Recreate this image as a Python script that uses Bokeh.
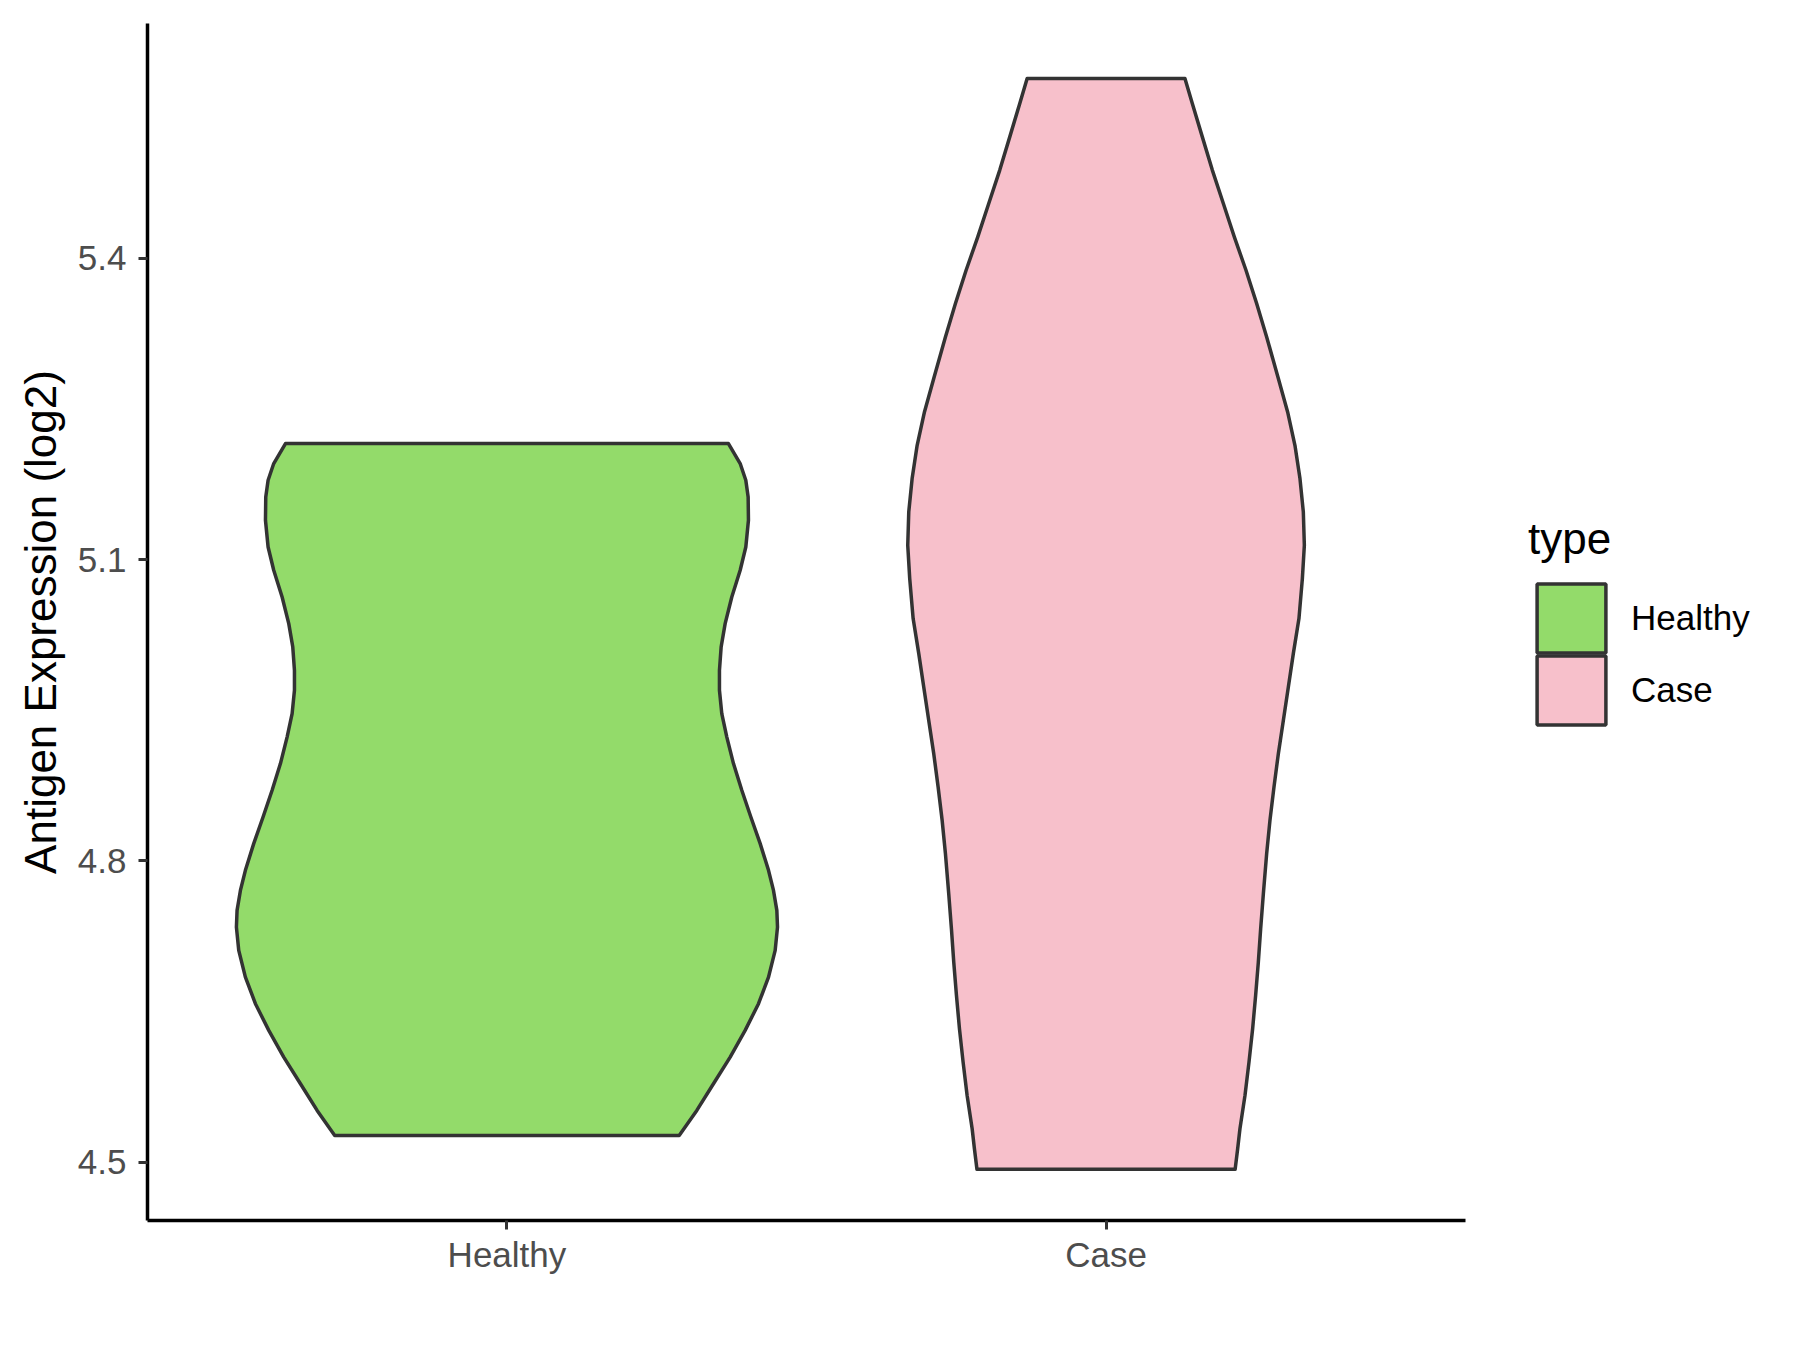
from bokeh.plotting import figure
from bokeh.layouts import row
from bokeh.models import FactorRange, Range1d, FixedTicker, Legend, LegendItem
from bokeh.embed import file_html
from bokeh.resources import INLINE

# ---- data ----
categories = ["Healthy", "Case"]
fill_colors = ["#93DB6A", "#F7C0CB"]
y_ticks = [4.5, 4.8, 5.1, 5.4]

# violin outline: expression level and half-width (in category units)
healthy_y = [5.2157, 5.1958, 5.1792, 5.1625, 5.1393, 5.1127, 5.0895, 5.0629, 5.0364, 5.0131,
             4.9899, 4.97, 4.9468, 4.9234, 4.897, 4.8704, 4.8438, 4.8173, 4.7907, 4.7707,
             4.7508, 4.7342, 4.711, 4.6844, 4.6579, 4.6313, 4.6047, 4.5782, 4.5516, 4.5267]
healthy_w = [0.3697, 0.3893, 0.3987, 0.4026, 0.4031, 0.3987, 0.3893, 0.3753, 0.3642, 0.3575,
             0.3547, 0.3547, 0.3586, 0.367, 0.3781, 0.392, 0.4071, 0.4227, 0.4366, 0.4449,
             0.4505, 0.4516, 0.4477, 0.4366, 0.4199, 0.3976, 0.3726, 0.3447, 0.3169, 0.2875]

case_y = [5.5793, 5.5544, 5.5211, 5.488, 5.4548, 5.4215, 5.3883, 5.3552, 5.3219, 5.2805,
          5.2472, 5.214, 5.1808, 5.1476, 5.1144, 5.0812, 5.0414, 5.0065, 4.9733, 4.9401,
          4.9069, 4.8736, 4.8405, 4.8073, 4.7675, 4.7326, 4.6993, 4.6662, 4.633, 4.5997,
          4.5665, 4.5334, 4.5135, 4.493]
case_w = [0.1317, 0.144, 0.1607, 0.1774, 0.1958, 0.2141, 0.2336, 0.2514, 0.2681, 0.2876,
          0.3031, 0.3153, 0.3237, 0.3293, 0.331, 0.3277, 0.322, 0.3126, 0.3043, 0.296,
          0.2876, 0.2803, 0.2736, 0.2681, 0.2626, 0.2581, 0.2542, 0.2497, 0.2447, 0.2386,
          0.2319, 0.2235, 0.2197, 0.2155]

FONT = "Liberation Sans"
OUTLINE = "#333333"
LW = 3.5

groups = [("Healthy", healthy_y, healthy_w, fill_colors[0]),
          ("Case", case_y, case_w, fill_colors[1])]

# ---- main panel ----
p = figure(width=1480, height=1334,
           x_range=FactorRange(*categories, range_padding=0.1, range_padding_units="absolute"),
           y_range=Range1d(4.442, 5.634),
           output_backend="svg", toolbar_location=None,
           min_border_left=147, min_border_right=15, min_border_top=23, min_border_bottom=114)
p.outline_line_color = None
p.xgrid.visible = False
p.ygrid.visible = False

for cat, ys, ws, col in groups:
    xs = [(cat, -w) for w in ws] + [(cat, w) for w in ws[::-1]]
    yy = list(ys) + list(ys[::-1])
    p.patch(x=xs, y=yy, fill_color=col, line_color=OUTLINE, line_width=LW, line_join="round")

for ax in (p.xaxis[0], p.yaxis[0]):
    ax.axis_line_color = "black"
    ax.axis_line_width = LW
    ax.major_tick_line_color = OUTLINE
    ax.major_tick_line_width = 3
    ax.major_tick_out = 9
    ax.major_tick_in = 0
    ax.minor_tick_line_color = None
    ax.major_label_text_font = FONT
    ax.major_label_text_font_size = "35px"
    ax.major_label_text_color = "#4D4D4D"

p.yaxis[0].ticker = FixedTicker(ticks=y_ticks)
p.yaxis[0].major_label_standoff = 12
p.yaxis[0].axis_label = "Antigen Expression (log2)"
p.yaxis[0].axis_label_text_font = FONT
p.yaxis[0].axis_label_text_font_size = "44px"
p.yaxis[0].axis_label_text_font_style = "normal"
p.yaxis[0].axis_label_text_color = "black"
p.yaxis[0].axis_label_standoff = 10
p.xaxis[0].major_label_standoff = 5

# ---- legend panel (key renderers lie outside its visible range) ----
lg = figure(width=304, height=1334, x_range=Range1d(0, 1), y_range=Range1d(-2, -1),
            x_axis_location=None, y_axis_location=None,
            output_backend="svg", toolbar_location=None,
            min_border_left=0, min_border_right=0, min_border_top=23, min_border_bottom=114)
lg.outline_line_color = None
lg.xgrid.visible = False
lg.ygrid.visible = False

key_renderers = []
for cat, ys, ws, col in groups:
    r = lg.patch(x=ws, y=ys, fill_color=col, line_color=OUTLINE, line_width=LW)
    key_renderers.append((cat, r))

common = dict(label_text_font=FONT, label_text_font_size="35px", label_text_color="black",
              glyph_width=86, glyph_height=86, label_standoff=17, spacing=0,
              padding=0, margin=0, border_line_alpha=0, background_fill_alpha=0)

legend1 = Legend(items=[LegendItem(label=key_renderers[0][0], renderers=[key_renderers[0][1]])],
                 location=(48, 559), title="type",
                 title_text_font=FONT, title_text_font_size="44px", title_text_color="black",
                 title_text_font_style="normal", title_standoff=11, **common)
legend2 = Legend(items=[LegendItem(label=key_renderers[1][0], renderers=[key_renderers[1][1]])],
                 location=(48, 487), **common)
lg.add_layout(legend1, "center")
lg.add_layout(legend2, "center")

layout = row(p, lg)
open("out.html", "w").write(file_html(layout, INLINE))
